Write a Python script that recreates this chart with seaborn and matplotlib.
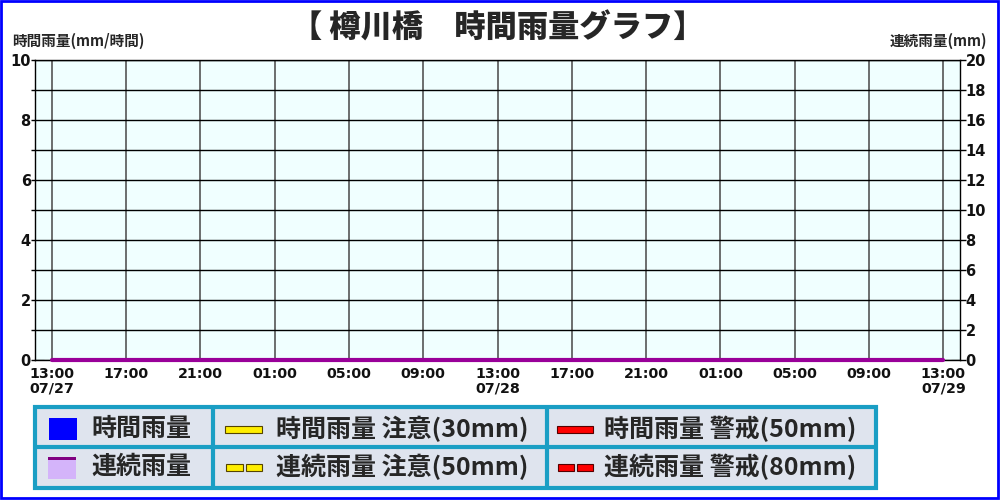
"""
樽川橋 時間雨量グラフ - recreation with seaborn
"""

import numpy as np
import pandas as pd
import matplotlib.pyplot as plt
import matplotlib.patches as mpatches
import seaborn as sns

# ---- data ----
station_title = "【 樽川橋　時間雨量グラフ】"
left_label = "時間雨量(mm/時間)"
right_label = "連続雨量(mm)"

times = pd.date_range("2024-07-27 13:00", "2024-07-29 13:00", freq="h")
hourly_rain = [0, 0, 0, 0, 0, 0, 0, 0, 0, 0, 0, 0,
               0, 0, 0, 0, 0, 0, 0, 0, 0, 0, 0, 0,
               0, 0, 0, 0, 0, 0, 0, 0, 0, 0, 0, 0,
               0, 0, 0, 0, 0, 0, 0, 0, 0, 0, 0, 0, 0]
cumulative_rain = [0, 0, 0, 0, 0, 0, 0, 0, 0, 0, 0, 0,
                   0, 0, 0, 0, 0, 0, 0, 0, 0, 0, 0, 0,
                   0, 0, 0, 0, 0, 0, 0, 0, 0, 0, 0, 0,
                   0, 0, 0, 0, 0, 0, 0, 0, 0, 0, 0, 0, 0]

x_tick_labels = ["13:00\n07/27", "17:00", "21:00", "01:00", "05:00", "09:00",
                 "13:00\n07/28", "17:00", "21:00", "01:00", "05:00", "09:00",
                 "13:00\n07/29"]
left_ticks = [0, 2, 4, 6, 8, 10]
right_ticks = [0, 2, 4, 6, 8, 10, 12, 14, 16, 18, 20]

legend_labels = [["時間雨量", "時間雨量 注意(30mm)", "時間雨量 警戒(50mm)"],
                 ["連続雨量", "連続雨量 注意(50mm)", "連続雨量 警戒(80mm)"]]

df = pd.DataFrame({
    "time": times,
    "hours": (times - times[0]) / pd.Timedelta(hours=1),
    "hourly": hourly_rain,
    "cumulative": cumulative_rain,
})

# ---- style ----
sns.set_style("ticks")
plt.rcParams['font.family'] = ['DejaVu Sans', 'Noto Sans CJK JP']
CJK = ['Noto Sans CJK JP', 'DejaVu Sans']

fig = plt.figure(figsize=(10, 5), dpi=100)
ax = fig.add_axes([0.035, 0.28, 0.925, 0.6])
ax.set_facecolor('#F0FFFF')

sns.barplot(data=df, x="hours", y="hourly", native_scale=True,
            color='#0000FF', width=0.8, ax=ax)

ax.set_xlim(-0.9, 48.9)
ax.set_ylim(0, 10)
ax.set_xticks(np.arange(0, 49, 4))
ax.set_xticklabels(x_tick_labels)
ax.set_yticks(left_ticks)
ax.set_yticks(np.arange(1, 10, 2), minor=True)
ax.set_xlabel("")
ax.set_ylabel("")
ax.grid(axis='y', which='both', color='black', lw=1)
ax.grid(axis='x', which='major', color='#555555', lw=1.2)
ax.set_axisbelow(True)
ax.tick_params(axis='y', which='both', length=3, width=1, color='black',
               labelsize=10.5, pad=0)
ax.tick_params(axis='x', length=0, labelsize=10.3, pad=5)
for lbl in ax.get_xticklabels() + ax.get_yticklabels():
    lbl.set_fontweight('bold')
    lbl.set_color('#111111')
    lbl.set_linespacing(1.05)
for sp in ax.spines.values():
    sp.set_visible(True)
    sp.set_color('black')
    sp.set_linewidth(1)

ax2 = ax.twinx()
sns.lineplot(data=df, x="hours", y="cumulative", color='#990099', lw=3,
             ax=ax2, clip_on=False)
ax2.set_ylim(0, 20)
ax2.set_yticks(right_ticks)
ax2.set_ylabel("")
ax2.tick_params(axis='y', length=4, width=1, color='black', labelsize=10.5,
                pad=0)
for lbl in ax2.get_yticklabels():
    lbl.set_fontweight('bold')
    lbl.set_color('#111111')
for sp in ax2.spines.values():
    sp.set_visible(False)

# ---- texts ----
fig.text(0.498, 0.944, station_title, ha='center', va='center',
         fontsize=22.5, fontweight='heavy', family=CJK)
fig.text(0.012, 0.918, left_label, ha='left', va='center',
         fontsize=10.5, fontweight='bold', family=CJK)
fig.text(0.987, 0.918, right_label, ha='right', va='center',
         fontsize=10.5, fontweight='bold', family=CJK)

# ---- legend table (pixel coordinates) ----
lg = fig.add_axes([0, 0, 1, 1], zorder=-1)
lg.set_xlim(0, 1000)
lg.set_ylim(500, 0)
lg.axis('off')

teal = '#1A9EC4'
cell_bg = '#DFE4EE'
lg.add_patch(mpatches.Rectangle((35, 407), 841, 81, facecolor=cell_bg,
                                edgecolor=teal, lw=3))
lg.plot([35, 876], [447, 447], color=teal, lw=3)
for cx in [212.5, 547]:
    lg.plot([cx, cx], [407, 488], color=teal, lw=3)

row_y = [429, 467]
text_x = [91, 276, 604]
for r in range(2):
    for c in range(3):
        lg.text(text_x[c], row_y[r], legend_labels[r][c], ha='left',
                va='center', fontsize=18, fontweight='bold', family=CJK)

# handles
lg.add_patch(mpatches.Rectangle((49, 418), 28, 22, facecolor='#0000FF', lw=0))
lg.add_patch(mpatches.Rectangle((48, 457), 28, 22, facecolor='#D4B4FA', lw=0))
lg.add_patch(mpatches.Rectangle((48, 457), 28, 3, facecolor='#800080', lw=0))
lg.add_patch(mpatches.Rectangle((225, 426), 37, 7, facecolor='#FFEE00',
                                edgecolor='#554400', lw=0.8))
lg.add_patch(mpatches.Rectangle((226, 464), 17, 7, facecolor='#FFEE00',
                                edgecolor='#554400', lw=0.8))
lg.add_patch(mpatches.Rectangle((246, 464), 16, 7, facecolor='#FFEE00',
                                edgecolor='#554400', lw=0.8))
lg.add_patch(mpatches.Rectangle((557, 426), 36, 7, facecolor='#FF0000',
                                edgecolor='#550000', lw=0.8))
lg.add_patch(mpatches.Rectangle((558, 464), 16, 7, facecolor='#FF0000',
                                edgecolor='#550000', lw=0.8))
lg.add_patch(mpatches.Rectangle((577, 464), 16, 7, facecolor='#FF0000',
                                edgecolor='#550000', lw=0.8))

# blue frame round the picture
lg.add_patch(mpatches.Rectangle((1, 1), 997, 497, facecolor='none',
                                edgecolor='#0000FF', lw=2, clip_on=False))

plt.savefig('out.png', dpi=100)
plt.close()
